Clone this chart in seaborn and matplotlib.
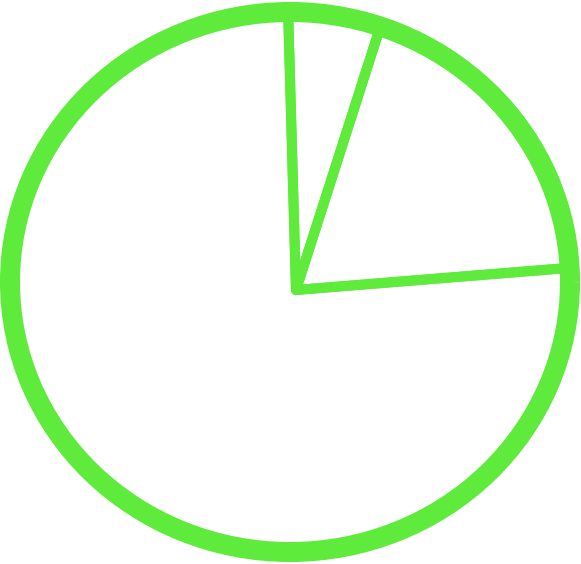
import numpy as np
import matplotlib.pyplot as plt
import seaborn as sns

# slice sizes (percent)
shares = [18.9, 5.2, 75.9]
start = 4.8

green = '#5eeb3b'

sns.set_style("white")

fig = plt.figure(figsize=(5.81, 5.64), dpi=100)
ax = fig.add_axes([0, 0, 1, 1])

# outer ring: single full wedge -> plain circle, no spokes
ring, _ = ax.pie([sum(shares)], radius=1.0,
                 wedgeprops=dict(fill=False, edgecolor=green, linewidth=14.4))

# spokes: the real slices, hub slightly off the ring centre, clipped to the ring
wedges, _ = ax.pie(shares, startangle=start, counterclock=True, radius=1.06,
                   center=(0.0214, -0.0296),
                   wedgeprops=dict(fill=False, edgecolor=green, linewidth=7.2,
                                   joinstyle='round'))
for w in wedges:
    w.set_clip_on(True)
    w.set_clip_path(ring[0])
ring[0].set_zorder(3)

ax.set_aspect('auto')
ax.set_xlim(-290 / 280, 291 / 280)
ax.set_ylim(-282 / 270, 282 / 270)
ax.axis('off')

fig.savefig('out.png', dpi=100)
